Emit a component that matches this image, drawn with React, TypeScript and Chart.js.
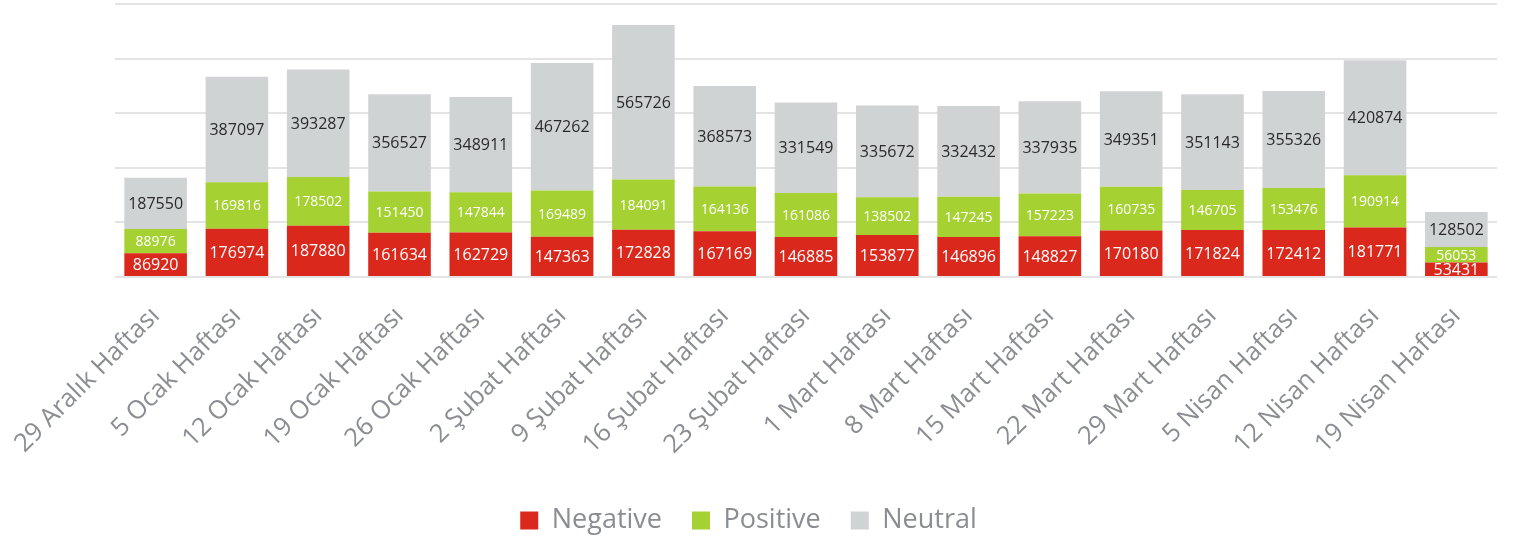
import React, { useEffect, useRef } from "react";
import { Chart, registerables } from "chart.js";

Chart.register(...registerables);

const categories = [
  "29 Aralık Haftası", "5 Ocak Haftası", "12 Ocak Haftası", "19 Ocak Haftası",
  "26 Ocak Haftası", "2 Şubat Haftası", "9 Şubat Haftası", "16 Şubat Haftası",
  "23 Şubat Haftası", "1 Mart Haftası", "8 Mart Haftası", "15 Mart Haftası",
  "22 Mart Haftası", "29 Mart Haftası", "5 Nisan Haftası", "12 Nisan Haftası",
  "19 Nisan Haftası",
];
const negative = [86920, 176974, 187880, 161634, 162729, 147363, 172828, 167169, 146885, 153877, 146896, 148827, 170180, 171824, 172412, 181771, 53431];
const positive = [88976, 169816, 178502, 151450, 147844, 169489, 184091, 164136, 161086, 138502, 147245, 157223, 160735, 146705, 153476, 190914, 56053];
const neutral = [187550, 387097, 393287, 356527, 348911, 467262, 565726, 368573, 331549, 335672, 332432, 337935, 349351, 351143, 355326, 420874, 128502];

const FONT = "'Open Sans', sans-serif";
const labelStyles = [
  { color: "#FFFFFF", size: 16 },
  { color: "#FFFFFF", size: 14 },
  { color: "#2A2A2A", size: 16 },
];

const dataLabelPlugin = {
  id: "segLabels",
  afterDatasetsDraw(chart: any) {
    const ctx = chart.ctx;
    const area = chart.chartArea;
    ctx.save();
    ctx.beginPath();
    ctx.rect(area.left, area.top, area.right - area.left, area.bottom - area.top);
    ctx.clip();
    chart.data.datasets.forEach((ds: any, di: number) => {
      const meta = chart.getDatasetMeta(di);
      const st = labelStyles[di];
      ctx.fillStyle = st.color;
      ctx.font = `${st.size}px ${FONT}`;
      ctx.textAlign = "center";
      ctx.textBaseline = "middle";
      meta.data.forEach((el: any, i: number) => {
        const { x, y, base } = el.getProps(["x", "y", "base"], true);
        ctx.fillText(String(ds.data[i]), x, (y + base) / 2 + 1);
      });
    });
    ctx.restore();
  },
};

export default function App() {
  const ref = useRef<HTMLCanvasElement | null>(null);
  useEffect(() => {
    if (!ref.current) return;
    const chart = new Chart(ref.current, {
      type: "bar",
      data: {
        labels: categories,
        datasets: [
          { label: "Negative", data: negative, backgroundColor: "#DA291C" },
          { label: "Positive", data: positive, backgroundColor: "#A5D132" },
          { label: "Neutral", data: neutral, backgroundColor: "#D0D3D4" },
        ],
      },
      options: {
        animation: false,
        responsive: true,
        maintainAspectRatio: false,
        layout: { padding: { left: 0, right: 27, top: 4, bottom: 0 } },
        datasets: { bar: { barPercentage: 0.77, categoryPercentage: 1 } },
        plugins: {
          tooltip: { enabled: false },
          legend: {
            position: "bottom",
            labels: {
              boxWidth: 18,
              boxHeight: 18,
              padding: 30,
              color: "#8A8D91",
              font: { family: FONT, size: 27 },
            },
          },
        },
        scales: {
          x: {
            stacked: true,
            grid: { display: false },
            border: { display: false },
            ticks: {
              autoSkip: false,
              minRotation: 45,
              maxRotation: 45,
              padding: 16,
              color: "#8A8D91",
              font: { family: FONT, size: 25.5 },
            },
            afterFit: (s: any) => {
              s.height = 200;
            },
          },
          y: {
            stacked: true,
            min: 0,
            max: 1000000,
            ticks: { display: false, stepSize: 200000 },
            grid: { color: "#E4E4E4", lineWidth: 2, drawTicks: false },
            border: { display: false },
            afterFit: (s: any) => {
              s.width = 112;
            },
          },
        },
      },
      plugins: [dataLabelPlugin],
    });
    return () => chart.destroy();
  }, []);
  return (
    <div style={{ position: "absolute", left: 0, top: 0, width: 1524, height: 537, overflow: "hidden" }}>
      <div style={{ position: "relative", width: 1524, height: 544 }}>
        <canvas ref={ref} />
      </div>
    </div>
  );
}
